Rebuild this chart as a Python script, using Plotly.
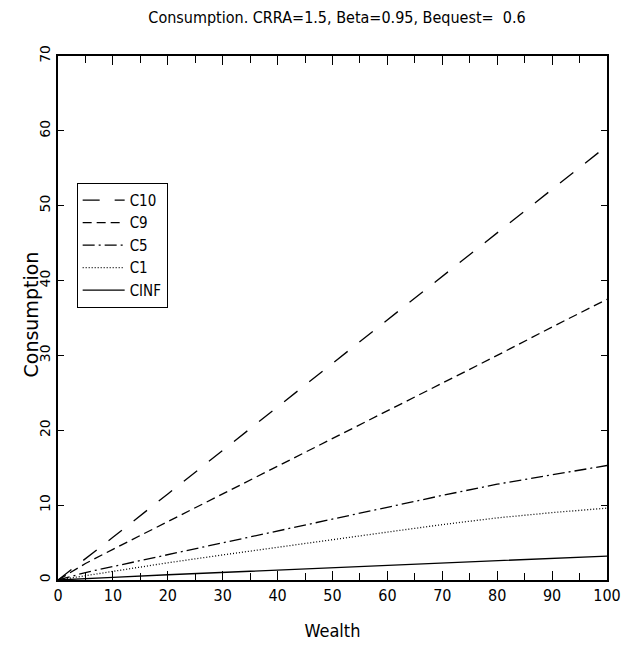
import plotly.graph_objects as go

wealth = [0, 5, 10, 20, 30, 40, 50, 60, 70, 80, 90, 100]
c10 = [0, 2.8, 5.7, 11.5, 17.3, 23.1, 28.9, 34.7, 40.5, 46.3, 52.1, 58.0]
c9 = [0, 2.2, 4.1, 7.8, 11.4, 15.1, 18.8, 22.5, 26.3, 30.0, 33.8, 37.5]
c5 = [0, 1.0, 1.8, 3.4, 5.0, 6.5, 8.1, 9.7, 11.3, 12.8, 14.1, 15.3]
c1 = [0, 0.6, 1.2, 2.3, 3.35, 4.4, 5.4, 6.4, 7.4, 8.3, 9.0, 9.6]
cinf = [0, 0.2, 0.35, 0.7, 1.0, 1.35, 1.65, 1.95, 2.3, 2.6, 2.9, 3.2]

series = [
    ("C10", c10, "17px,15px"),
    ("C9", c9, "9px,5px"),
    ("C5", c5, "12px,4px,2px,4px"),
    ("C1", c1, "1px,2px"),
    ("CINF", cinf, "solid"),
]

narrow = "DejaVu Sans Condensed, Liberation Sans Narrow, sans-serif"
wide = "DejaVu Sans, Verdana, sans-serif"

fig = go.Figure()
for name, ys, dash in series:
    fig.add_trace(go.Scatter(x=wealth, y=ys, mode="lines", name=name,
                             line=dict(color="black", width=1.3, dash=dash)))

fig.update_layout(
    width=629, height=646,
    margin=dict(l=50, r=30, t=48, b=74, autoexpand=False),
    paper_bgcolor="white", plot_bgcolor="white",
    title=dict(text="Consumption. CRRA=1.5, Beta=0.95, Bequest=  0.6",
               x=(337 - 8) / 629, xanchor="center", y=1 - (17 - 8) / 646,
               yanchor="middle",
               font=dict(family=narrow, size=16, color="black")),
    showlegend=True,
    legend=dict(x=0.034, y=0.758, xanchor="left", yanchor="top",
                bordercolor="black", borderwidth=1, bgcolor="white",
                font=dict(family=narrow, size=15, color="black"),
                tracegroupgap=0, itemwidth=42),
    annotations=[dict(text="Consumption", textangle=-90, xref="paper", yref="paper",
                      x=(30 - 58) / 549, y=(580 - 314.5) / 524,
                      xanchor="center", yanchor="middle", showarrow=False,
                      font=dict(family=wide, size=19, color="black"))],
)
fig.update_xaxes(
    range=[0, 100], tickvals=[0, 10, 20, 30, 40, 50, 60, 70, 80, 90, 100],
    ticks="inside", ticklen=9, tickwidth=1, tickcolor="black",
    minor=dict(tickvals=[5, 15, 25, 35, 45, 55, 65, 75, 85, 95], ticks="inside",
               ticklen=7, tickcolor="black", tickwidth=1),
    showline=True, linecolor="black", linewidth=2, mirror="ticks",
    showgrid=False, zeroline=False, automargin=False,
    tickfont=dict(family=narrow, size=16, color="black"),
    title=dict(text="Wealth", font=dict(family=narrow, size=18, color="black"),
               standoff=20),
)
fig.update_yaxes(
    range=[0, 70], tickvals=[0, 10, 20, 30, 40, 50, 60, 70],
    ticks="inside", ticklen=6, tickwidth=1, tickcolor="black",
    showline=True, linecolor="black", linewidth=2, mirror="ticks",
    showgrid=False, zeroline=False, tickangle=-90, automargin=False,
    tickfont=dict(family=wide, size=14, color="black"),
)
fig.write_html("out.html")
